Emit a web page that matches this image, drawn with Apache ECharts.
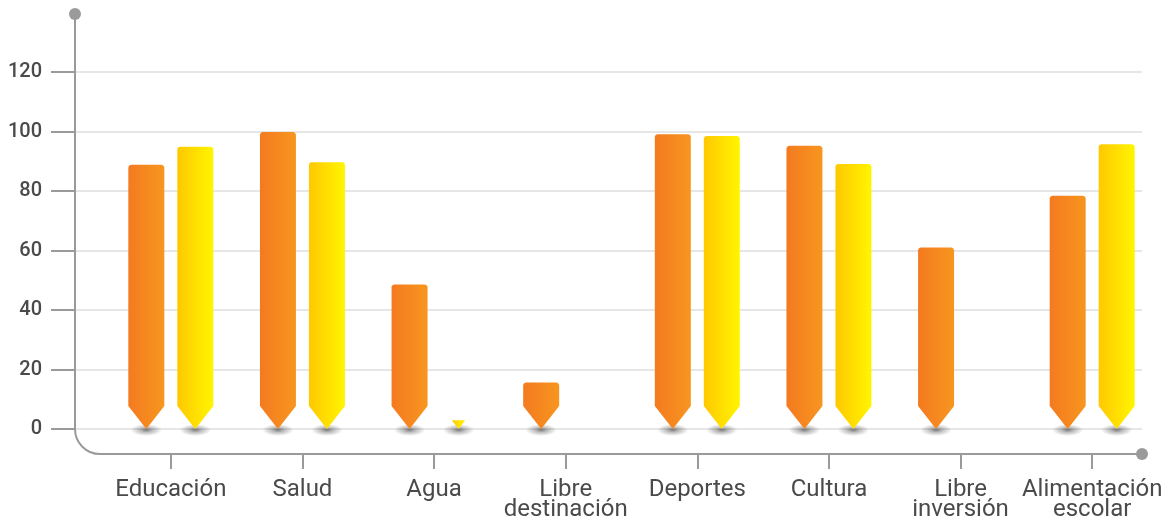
<!DOCTYPE html>
<html>
<head>
<meta charset="utf-8">
<script src="https://cdn.jsdelivr.net/npm/echarts@6/dist/echarts.min.js"></script>
<style>html,body{margin:0;padding:0;background:#fff}#c{width:1171px;height:529px}</style>
</head>
<body>
<div id="c"></div>
<script>
const categories = ['Educación', 'Salud', 'Agua', 'Libre\ndestinación', 'Deportes', 'Cultura', 'Libre\ninversión', 'Alimentación\nescolar'];
const seriesA = [88.8, 99.8, 48.6, 15.6, 99.1, 95.2, 61.0, 78.4];
const seriesB = [94.9, 89.7, 2.9, null, 98.5, 89.1, null, 95.7];
const yTicks = { min: 0, max: 120, interval: 20 };

const chart = echarts.init(document.getElementById('c'), null, { renderer: 'canvas' });

const AXIS = '#9a9a9a';
const GRID_TOP = 72, GRID_BOTTOM = 100, FRAME_LEFT = 75, FRAME_RIGHT = 29;
const ZERO_Y = 529 - GRID_BOTTOM;
const XLINE_Y = ZERO_Y + 25;

const orangeGrad = () => new echarts.graphic.LinearGradient(0, 0, 1, 0, [
  { offset: 0, color: '#F47A20' }, { offset: 1, color: '#F7961F' }]);
const yellowGrad = () => new echarts.graphic.LinearGradient(0, 0, 1, 0, [
  { offset: 0, color: '#FFC800' }, { offset: 1, color: '#FFF500' }]);

function makeRender(offset, gradFn) {
  return function (params, api) {
    const v = api.value(1);
    if (v == null || isNaN(v) || v <= 0) return null;
    const i = api.value(0);
    const top = api.coord([i, v]);
    const base = api.coord([i, 0]);
    const cx = top[0] + offset;
    const half = 18, tipH = 23, r = 3;
    const yTop = top[1], yBase = base[1], yShoulder = yBase - tipH;
    let pts = [];
    if (yTop < yShoulder - r) {
      const L = cx - half, R = cx + half;
      pts.push([L, yShoulder]);
      for (let k = 0; k <= 4; k++) {
        const a = Math.PI + (Math.PI / 2) * (k / 4);
        pts.push([L + r + r * Math.cos(a), yTop + r + r * Math.sin(a)]);
      }
      for (let k = 0; k <= 4; k++) {
        const a = -Math.PI / 2 + (Math.PI / 2) * (k / 4);
        pts.push([R - r + r * Math.cos(a), yTop + r + r * Math.sin(a)]);
      }
      pts.push([R, yShoulder]);
      pts.push([cx, yBase]);
    } else {
      const hw = half * (yBase - yTop) / tipH;
      pts = [[cx - hw, yTop], [cx + hw, yTop], [cx, yBase]];
    }
    return {
      type: 'group',
      children: [
        {
          type: 'circle',
          x: cx, y: yBase + 1, scaleX: 2.6, scaleY: 1,
          shape: { cx: 0, cy: 0, r: 6 },
          style: {
            fill: new echarts.graphic.RadialGradient(0.5, 0.5, 0.5, [
              { offset: 0, color: 'rgba(0,0,0,0.5)' },
              { offset: 0.4, color: 'rgba(0,0,0,0.25)' },
              { offset: 1, color: 'rgba(0,0,0,0)' }])
          },
          z2: 1
        },
        {
          type: 'polygon',
          shape: { points: pts },
          style: { fill: gradFn() },
          z2: 2
        }
      ]
    };
  };
}

const option = {
  backgroundColor: '#ffffff',
  animation: false,
  textStyle: { fontFamily: 'Roboto' },
  grid: [
    { left: FRAME_LEFT, right: FRAME_RIGHT, top: GRID_TOP, bottom: GRID_BOTTOM, containLabel: false },
    { left: 105, right: 13, top: GRID_TOP, bottom: GRID_BOTTOM, containLabel: false }
  ],
  xAxis: [
    { gridIndex: 0, type: 'value', show: false, min: 0, max: 1 },
    {
      gridIndex: 1, type: 'category', data: categories, offset: 25,
      axisLine: { show: false, onZero: false },
      axisTick: { show: true, alignWithLabel: true, length: 15, lineStyle: { color: AXIS, width: 2 } },
      axisLabel: { fontSize: 24, fontWeight: 400, color: '#4a4a4a', lineHeight: 20, margin: 26, fontFamily: 'Roboto', interval: 0 },
      splitLine: { show: false }
    }
  ],
  yAxis: [
    {
      gridIndex: 0, type: 'value', min: yTicks.min, max: yTicks.max, interval: yTicks.interval,
      axisLine: { show: false },
      axisTick: { show: true, length: 24, lineStyle: { color: AXIS, width: 2 } },
      axisLabel: { fontSize: 20, fontWeight: 500, color: '#4a4a4a', margin: 33, fontFamily: 'Roboto' },
      splitLine: { show: true, lineStyle: { color: '#e6e6e6', width: 2 } }
    },
    { gridIndex: 1, type: 'value', min: yTicks.min, max: yTicks.max, show: false, splitLine: { show: false } }
  ],
  series: [
    { type: 'custom', name: 'A', xAxisIndex: 1, yAxisIndex: 1, renderItem: makeRender(-24.5, orangeGrad),
      data: seriesA.map((v, i) => [i, v]), encode: { x: 0, y: 1 }, z: 3 },
    { type: 'custom', name: 'B', xAxisIndex: 1, yAxisIndex: 1, renderItem: makeRender(24.5, yellowGrad),
      data: seriesB.map((v, i) => [i, v == null ? '-' : v]), encode: { x: 0, y: 1 }, z: 3 }
  ],
  graphic: [
    { type: 'line', shape: { x1: FRAME_LEFT, y1: 14, x2: FRAME_LEFT, y2: XLINE_Y - 25 }, style: { stroke: AXIS, lineWidth: 2 }, z: 5 },
    { type: 'arc', shape: { cx: FRAME_LEFT + 25, cy: XLINE_Y - 25, r: 25, startAngle: Math.PI / 2, endAngle: Math.PI }, style: { stroke: AXIS, lineWidth: 2, fill: null }, z: 5 },
    { type: 'line', shape: { x1: FRAME_LEFT + 25, y1: XLINE_Y, x2: 1171 - FRAME_RIGHT, y2: XLINE_Y }, style: { stroke: AXIS, lineWidth: 2 }, z: 5 },
    { type: 'circle', shape: { cx: FRAME_LEFT, cy: 14, r: 6 }, style: { fill: AXIS }, z: 6 },
    { type: 'circle', shape: { cx: 1171 - FRAME_RIGHT, cy: XLINE_Y, r: 6 }, style: { fill: AXIS }, z: 6 }
  ]
};
chart.setOption(option);
</script>
</body>
</html>
